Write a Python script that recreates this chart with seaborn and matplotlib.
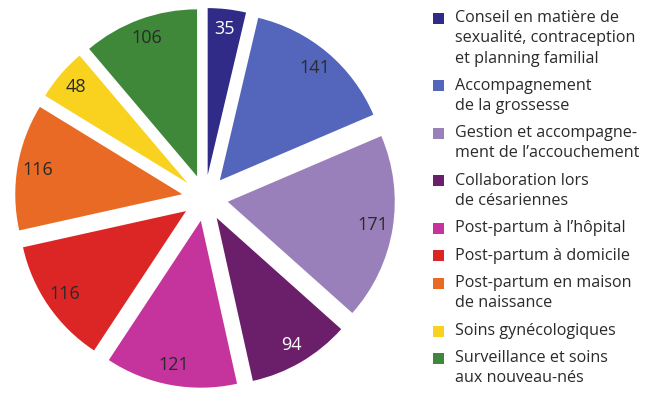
import matplotlib
matplotlib.use("Agg")
import matplotlib.pyplot as plt
import seaborn as sns
from matplotlib.patches import Rectangle

categories = [
    "Conseil en matière de\nsexualité, contraception\net planning familial",
    "Accompagnement\nde la grossesse",
    "Gestion et accompagne-\nment de l\u2019accouchement",
    "Collaboration lors\nde césariennes",
    "Post-partum à l\u2019hôpital",
    "Post-partum à domicile",
    "Post-partum en maison\nde naissance",
    "Soins gynécologiques",
    "Surveillance et soins\naux nouveau-nés",
]
values = [35, 141, 171, 94, 121, 116, 116, 48, 106]
colors = ["#2f2b86", "#5466bb", "#9a80ba", "#6b1f6b", "#c5339c",
          "#dc2626", "#e96a25", "#f8d21f", "#3f883a"]
label_colors = ["white", "#2a2a2a", "#2a2a2a", "white", "#2a2a2a",
                "#2a2a2a", "#2a2a2a", "#2a2a2a", "#2a2a2a"]

sns.set_theme(style="white")
plt.rcParams["font.family"] = ["Open Sans", "DejaVu Sans"]

W, H = 649, 411
fig = plt.figure(figsize=(W / 100, H / 100), dpi=100)
fig.patch.set_facecolor("white")

cx, cy, r_px, S = 205, 198, 167, 200
lim = S / r_px
ax = fig.add_axes([(cx - S) / W, (H - cy - S) / H, 2 * S / W, 2 * S / H])
wedges, texts = ax.pie(
    values, colors=colors, startangle=90, counterclock=False,
    explode=[0.138] * len(values),
    labels=[str(v) for v in values], labeldistance=0.88,
    wedgeprops=dict(edgecolor="none", linewidth=0),
    textprops=dict(fontsize=13, ha="center", va="center"),
)
for t, c in zip(texts, label_colors):
    t.set_color(c)
ax.set_xlim(-lim, lim)
ax.set_ylim(-lim, lim)
ax.set_aspect("equal")
ax.axis("off")

# manual legend
x_sq, x_txt = 433, 455
line_h = 20
gap = 7.5
y = 10
for lab, col in zip(categories, colors):
    nlines = lab.count("\n") + 1
    fig.patches.append(Rectangle((x_sq / W, 1 - (y + 14) / H), 11 / W, 11 / H,
                                 transform=fig.transFigure, facecolor=col,
                                 edgecolor="none"))
    fig.text(x_txt / W, 1 - y / H, lab, ha="left", va="top", fontsize=11.6,
             color="#2a2a2a", linespacing=1.36)
    y += nlines * line_h + gap

fig.savefig("out.png", dpi=100, facecolor="white")
